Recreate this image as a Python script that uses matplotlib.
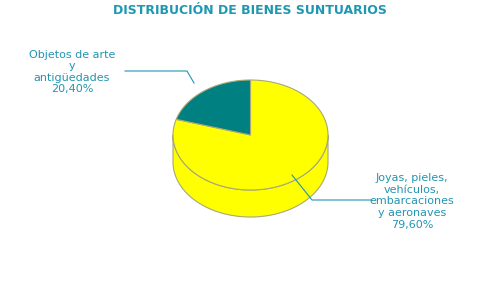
import numpy as np
import matplotlib.pyplot as plt
from matplotlib.patches import Polygon

# Datos
categorias = ['Joyas, pieles,\nvehículos,\nembarcaciones\ny aeronaves\n79,60%',
              'Objetos de arte\ny\nantigüedades\n20,40%']
valores = [79.60, 20.40]
colores = ['#ffff00', '#008080']

texto_color = '#2196b0'
borde = '#a8a878'

fig = plt.figure(figsize=(5, 3), dpi=100)
ax = fig.add_axes([0, 0, 1, 1])
ax.set_xlim(0, 500)
ax.set_ylim(300, 0)
ax.axis('off')

cx, cy, rx, ry, prof = 250.5, 135, 77.5, 55, 27

def punto(t, dy=0):
  return cx + rx*np.sin(t), cy - ry*np.cos(t) + dy

# Cara lateral (mitad frontal)
t = np.linspace(np.pi/2, 3*np.pi/2, 200)
x1, y1 = punto(t)
x2, y2 = punto(t[::-1], prof)
lado = np.column_stack([np.concatenate([x1, x2]), np.concatenate([y1, y2])])
ax.add_patch(Polygon(lado, closed=True, facecolor=colores[0], edgecolor=borde, lw=0.8))

# Sectores superiores
fracs = np.cumsum([0] + valores) / sum(valores) * 2*np.pi
for i in range(len(valores)):
  t = np.linspace(fracs[i], fracs[i+1], 200)
  x, y = punto(t)
  pts = np.column_stack([np.concatenate([[cx], x]), np.concatenate([[cy], y])])
  ax.add_patch(Polygon(pts, closed=True, facecolor=colores[i], edgecolor=borde, lw=0.8))

# Líneas guía y etiquetas
ax.plot([292, 312, 372], [175, 200, 200], color=texto_color, lw=0.8)
ax.plot([194, 187, 125], [83, 71, 71], color=texto_color, lw=0.8)
ax.text(412, 201.5, categorias[0], ha='center', va='center', color=texto_color,
        fontsize=8, linespacing=1.2)
ax.text(72, 72, categorias[1], ha='center', va='center', color=texto_color,
        fontsize=8, linespacing=1.2)

ax.text(250, 10, 'DISTRIBUCIÓN DE BIENES SUNTUARIOS', ha='center', va='center',
        color='#1e98b2', fontsize=9, fontweight='bold')

fig.savefig('out.png', dpi=100)
